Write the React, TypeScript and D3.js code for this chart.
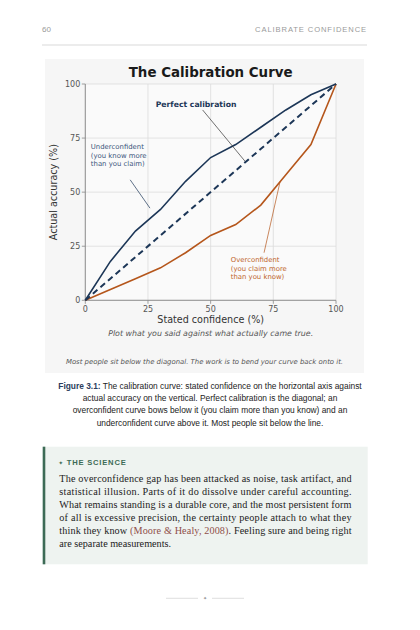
import React from "react";
import * as d3 from "d3";

const ticks = [0, 25, 50, 75, 100];
const diagonal = [0, 100];
const underX = [0, 10, 20, 30, 40, 50, 60, 70, 80, 90, 100];
const underY = [0, 18, 32, 42, 55, 66, 72, 80, 88, 95, 100];
const overX = [0, 10, 20, 30, 40, 50, 60, 70, 80, 90, 100];
const overY = [0, 5, 10, 15, 22, 30, 35, 44, 58, 72, 100];

const underLabel = ["Underconfident", "(you know more", "than you claim)"];
const overLabel = ["Overconfident", "(you claim more", "than you know)"];
const captionLines = [
  "The calibration curve: stated confidence on the horizontal axis against",
  "actual accuracy on the vertical. Perfect calibration is the diagonal; an",
  "overconfident curve bows below it (you claim more than you know) and an",
  "underconfident curve above it. Most people sit below the line.",
];
const scienceLines = [
  "The overconfidence gap has been attacked as noise, task artifact, and",
  "statistical illusion. Parts of it do dissolve under careful accounting.",
  "What remains standing is a durable core, and the most persistent form",
  "of all is excessive precision, the certainty people attach to what they",
];

const NAVY = "#1c3657";
const ORANGE = "#b5561b";
const SANS = "'DejaVu Sans', sans-serif";
const ARIAL = "'Liberation Sans', Arial, sans-serif";
const SERIF = "'Liberation Serif', serif";

export default function App() {
  const x = d3.scaleLinear().domain([0, 100]).range([85.3, 336]);
  const y = d3.scaleLinear().domain([0, 100]).range([300.3, 84]);
  const line = d3
    .line<[number, number]>()
    .x((d) => x(d[0]))
    .y((d) => y(d[1]));
  const under = underX.map((v, i) => [v, underY[i]] as [number, number]);
  const over = overX.map((v, i) => [v, overY[i]] as [number, number]);
  const diag = diagonal.map((v) => [v, v] as [number, number]);

  const textLeft = 59.3;
  const textRight = 351.5;

  return (
    <svg
      width={420}
      height={630}
      style={{ position: "absolute", left: 0, top: 0, background: "#fff" }}
    >
      {/* running header */}
      <text x={42} y={32} fontFamily={ARIAL} fontSize={8} fill="#9a9a9a">
        60
      </text>
      <text
        x={367}
        y={32}
        textAnchor="end"
        fontFamily={ARIAL}
        fontSize={7.6}
        letterSpacing={0.9}
        fill="#9a9a9a"
      >
        CALIBRATE CONFIDENCE
      </text>
      <line x1={42} x2={367} y1={45} y2={45} stroke="#cfcfcf" strokeWidth={0.8} />

      {/* figure panel */}
      <rect x={45} y={59} width={319} height={314} fill="#f6f6f6" />
      <rect x={x(0)} y={y(100)} width={x(100) - x(0)} height={y(0) - y(100)} fill="#fafafa" />

      <text
        x={x(50)}
        y={77}
        textAnchor="middle"
        fontFamily={SANS}
        fontWeight="bold"
        fontSize={13.4}
        fill="#1a1a1a"
      >
        The Calibration Curve
      </text>

      {/* grid */}
      {ticks.map((t) => (
        <g key={"g" + t}>
          <line x1={x(t)} x2={x(t)} y1={y(0)} y2={y(100)} stroke="#dcdcdc" strokeWidth={0.8} />
          <line x1={x(0)} x2={x(100)} y1={y(t)} y2={y(t)} stroke="#dcdcdc" strokeWidth={0.8} />
        </g>
      ))}
      {/* axes */}
      <line x1={x(0)} x2={x(0)} y1={y(0)} y2={y(100)} stroke="#888" strokeWidth={0.9} />
      <line x1={x(0)} x2={x(100)} y1={y(0)} y2={y(0)} stroke="#888" strokeWidth={0.9} />
      {ticks.map((t) => (
        <g key={"t" + t}>
          <line x1={x(0) - 3.5} x2={x(0)} y1={y(t)} y2={y(t)} stroke="#888" strokeWidth={0.8} />
          <text
            x={x(0) - 5}
            y={y(t) + 2.9}
            textAnchor="end"
            fontFamily={SANS}
            fontSize={8}
            fill="#555"
          >
            {t}
          </text>
          <line x1={x(t)} x2={x(t)} y1={y(0)} y2={y(0) + 3.5} stroke="#888" strokeWidth={0.8} />
          <text x={x(t)} y={y(0) + 12} textAnchor="middle" fontFamily={SANS} fontSize={8} fill="#555">
            {t}
          </text>
        </g>
      ))}

      {/* axis labels */}
      <text
        transform={`translate(${57},${y(50)}) rotate(-90)`}
        textAnchor="middle"
        fontFamily={SANS}
        fontSize={9.6}
        fill="#333"
      >
        Actual accuracy (%)
      </text>
      <text x={x(50)} y={323} textAnchor="middle" fontFamily={SANS} fontSize={9.6} fill="#333">
        Stated confidence (%)
      </text>
      <text
        x={x(50)}
        y={335.5}
        textAnchor="middle"
        fontFamily={SANS}
        fontStyle="italic"
        fontSize={7.9}
        fill="#555"
      >
        Plot what you said against what actually came true.
      </text>
      <text
        x={204.5}
        y={364}
        textAnchor="middle"
        fontFamily={SANS}
        fontStyle="italic"
        fontSize={6.9}
        fill="#555"
      >
        Most people sit below the diagonal. The work is to bend your curve back onto it.
      </text>

      {/* curves */}
      <path d={line(over) || ""} fill="none" stroke={ORANGE} strokeWidth={1.6} />
      <path d={line(under) || ""} fill="none" stroke={NAVY} strokeWidth={1.6} />
      <path
        d={line(diag) || ""}
        fill="none"
        stroke={NAVY}
        strokeWidth={2}
        strokeDasharray="6 4"
      />

      {/* annotations */}
      <text x={x(28.1)} y={y(89.2)} fontFamily={SANS} fontWeight="bold" fontSize={7.7} fill={NAVY}>
        Perfect calibration
      </text>
      <line x1={x(46.8)} y1={y(88)} x2={x(63.7)} y2={y(64.3)} stroke="#333" strokeWidth={0.7} />

      {underLabel.map((s, i) => (
        <text key={s} x={x(2.2)} y={y(69.8) + i * 8.4} fontFamily={SANS} fontSize={6.9} fill="#3b557a">
          {s}
        </text>
      ))}
      <line x1={x(17.9)} y1={y(55.7)} x2={x(25.8)} y2={y(42.6)} stroke={NAVY} strokeWidth={0.7} />

      {overLabel.map((s, i) => (
        <text key={s} x={x(58)} y={y(17.6) + i * 8.4} fontFamily={SANS} fontSize={6.9} fill="#c0652b">
          {s}
        </text>
      ))}
      <line x1={x(71.3)} y1={y(22)} x2={x(77.7)} y2={y(54.9)} stroke={ORANGE} strokeWidth={0.7} />

      {/* caption */}
      {captionLines.map((s, i) => (
        <text
          key={i}
          x={210}
          y={388.5 + i * 12.4}
          textAnchor="middle"
          fontFamily={ARIAL}
          fontSize={8.4}
          fill="#222"
        >
          {i === 0 ? (
            <>
              <tspan fontWeight="bold" fill="#2b3d5c">
                Figure 3.1:
              </tspan>{" "}
              {s}
            </>
          ) : (
            s
          )}
        </text>
      ))}

      {/* science box */}
      <rect x={42.7} y={446.7} width={325} height={117.6} fill="#eef3f0" />
      <rect x={42.7} y={446.7} width={2.6} height={117.6} fill="#3d6b56" />
      <text x={58.3} y={465} fontFamily={SANS} fontSize={6} fill="#3d6b56">
        ✦
      </text>
      <text
        x={66.7}
        y={465}
        fontFamily={ARIAL}
        fontWeight="bold"
        fontSize={7.6}
        letterSpacing={0.8}
        fill="#3d6b56"
      >
        THE SCIENCE
      </text>
      {scienceLines.map((s, i) => (
        <text
          key={i}
          x={textLeft}
          y={481.7 + i * 13.07}
          fontFamily={SERIF}
          fontSize={10.2}
          fill="#222"
          textLength={textRight - textLeft}
          lengthAdjust="spacing"
        >
          {s}
        </text>
      ))}
      <text
        x={textLeft}
        y={481.7 + 4 * 13.07}
        fontFamily={SERIF}
        fontSize={10.2}
        fill="#222"
        textLength={textRight - textLeft}
        lengthAdjust="spacing"
      >
        think they know <tspan fill="#8e4f4a">(Moore &amp; Healy, 2008)</tspan>. Feeling sure and being right
      </text>
      <text x={textLeft} y={481.7 + 5 * 13.07} fontFamily={SERIF} fontSize={10.2} fill="#222">
        are separate measurements.
      </text>

      {/* ornament */}
      <line x1={166} x2={198} y1={598.3} y2={598.3} stroke="#d0d0d0" strokeWidth={0.7} />
      <line x1={212} x2={244} y1={598.3} y2={598.3} stroke="#d0d0d0" strokeWidth={0.7} />
      <text x={205} y={600.3} textAnchor="middle" fontFamily={SANS} fontSize={5} fill="#999">
        ✦
      </text>
    </svg>
  );
}
